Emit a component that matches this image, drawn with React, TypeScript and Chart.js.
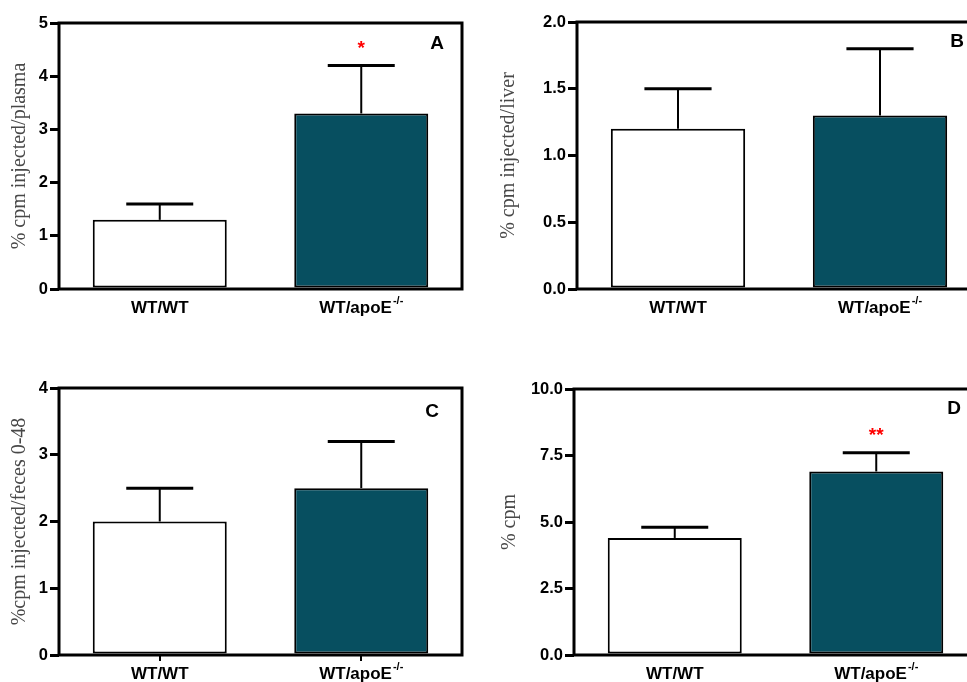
import React, { useEffect, useRef } from 'react';
import { Chart, registerables } from 'chart.js';

Chart.register(...registerables);

// ---------- data ----------
const categories = ['WT/WT', 'WT/apoE'];
const categorySuperscripts = ['', '-/-'];
const barColors = ['#ffffff', '#074f60'];

const plasmaMeans = [1.3, 3.3];
const plasmaErrors = [0.3, 0.9];
const plasmaStars = ['', '*'];

const liverMeans = [1.2, 1.3];
const liverErrors = [0.3, 0.5];
const liverStars = ['', ''];

const fecesMeans = [2.0, 2.5];
const fecesErrors = [0.5, 0.7];
const fecesStars = ['', ''];

const cpmMeans = [4.4, 6.9];
const cpmErrors = [0.4, 0.7];
const cpmStars = ['', '**'];

const plasmaAxis = { max: 5, step: 1, decimals: 0 };
const liverAxis = { max: 2, step: 0.5, decimals: 1 };
const fecesAxis = { max: 4, step: 1, decimals: 0 };
const cpmAxis = { max: 10, step: 2.5, decimals: 1 };

// ---------- panel layout / style ----------
type PanelCfg = {
  letter: string;
  yTitle: string;
  means: number[];
  errors: number[];
  stars: string[];
  axis: { max: number; step: number; decimals: number };
  left: number; top: number; w: number; h: number;
  padLeft: number; padTop: number; padRight: number; padBottom: number;
  yWidth: number; xHeight: number;
  xTicks: boolean;
  letterDx: number; letterDy: number;
};

const panels: PanelCfg[] = [
  {
    letter: 'A', yTitle: '% cpm injected/plasma', means: plasmaMeans, errors: plasmaErrors, stars: plasmaStars, axis: plasmaAxis,
    left: 0, top: 0, w: 480, h: 340, padLeft: 0, padTop: 23, padRight: 18, padBottom: 11, yWidth: 59, xHeight: 40,
    xTicks: false, letterDx: -25, letterDy: 21,
  },
  {
    letter: 'B', yTitle: '% cpm injected/liver', means: liverMeans, errors: liverErrors, stars: liverStars, axis: liverAxis,
    left: 480, top: 0, w: 520, h: 340, padLeft: 9, padTop: 22, padRight: 19, padBottom: 11, yWidth: 88, xHeight: 40,
    xTicks: false, letterDx: -24, letterDy: 20,
  },
  {
    letter: 'C', yTitle: '%cpm injected/feces 0-48', means: fecesMeans, errors: fecesErrors, stars: fecesStars, axis: fecesAxis,
    left: 0, top: 360, w: 480, h: 322, padLeft: 0, padTop: 28, padRight: 18, padBottom: 0, yWidth: 59, xHeight: 27,
    xTicks: true, letterDx: -30, letterDy: 24,
  },
  {
    letter: 'D', yTitle: '% cpm', means: cpmMeans, errors: cpmErrors, stars: cpmStars, axis: cpmAxis,
    left: 480, top: 360, w: 520, h: 322, padLeft: 10, padTop: 29, padRight: 23, padBottom: 0, yWidth: 84, xHeight: 27,
    xTicks: false, letterDx: -23, letterDy: 20,
  },
];

const SANS = 'Arial, "Liberation Sans", Helvetica, sans-serif';
const SERIF = '"Liberation Serif", "Times New Roman", serif';

function makeDecor(p: PanelCfg) {
  return {
    id: 'decor' + p.letter,
    afterDatasetsDraw(chart: any) {
      const { ctx, chartArea: ca, scales } = chart;
      const y = scales.y;
      const xs = scales.x;
      const meta = chart.getDatasetMeta(0);
      ctx.save();
      // error bars + significance
      p.means.forEach((m, i) => {
        const bar: any = meta.data[i];
        const cx = bar.x;
        const topPx = y.getPixelForValue(m);
        const errPx = y.getPixelForValue(m + p.errors[i]);
        const half = bar.width / 4;
        ctx.strokeStyle = '#000';
        ctx.lineWidth = 2;
        ctx.beginPath();
        ctx.moveTo(cx, topPx);
        ctx.lineTo(cx, errPx);
        ctx.stroke();
        ctx.lineWidth = 3;
        ctx.beginPath();
        ctx.moveTo(cx - half, errPx);
        ctx.lineTo(cx + half, errPx);
        ctx.stroke();
        if (p.stars[i]) {
          ctx.fillStyle = '#ff0000';
          ctx.font = 'bold 19px ' + SANS;
          ctx.textAlign = 'center';
          ctx.textBaseline = 'alphabetic';
          ctx.fillText(p.stars[i], cx, errPx - 12);
        }
      });
      // frame
      ctx.strokeStyle = '#000';
      ctx.lineWidth = 3;
      ctx.strokeRect(ca.left, ca.top, ca.right - ca.left, ca.bottom - ca.top);
      // panel letter
      ctx.fillStyle = '#000';
      ctx.font = 'bold 19px ' + SANS;
      ctx.textAlign = 'center';
      ctx.textBaseline = 'middle';
      ctx.fillText(p.letter, ca.right + p.letterDx, ca.top + p.letterDy);
      // category labels with superscripts
      categories.forEach((c, i) => {
        const cx = xs.getPixelForValue(i);
        const ly = ca.bottom + 19;
        ctx.font = 'bold 17px ' + SANS;
        const wb = ctx.measureText(c).width;
        ctx.font = 'bold 11px ' + SANS;
        const sup = categorySuperscripts[i];
        const ws = sup ? ctx.measureText(sup).width + 1 : 0;
        const start = cx - (wb + ws) / 2;
        ctx.textAlign = 'left';
        ctx.textBaseline = 'middle';
        ctx.font = 'bold 17px ' + SANS;
        ctx.fillText(c, start, ly);
        if (sup) {
          ctx.font = 'bold 11px ' + SANS;
          ctx.fillText(sup, start + wb + 1, ly - 7);
        }
      });
      ctx.restore();
    },
  };
}

function Panel({ p }: { p: PanelCfg }) {
  const ref = useRef<HTMLCanvasElement | null>(null);
  useEffect(() => {
    if (!ref.current) return;
    const chart = new Chart(ref.current, {
      type: 'bar',
      data: {
        labels: categories,
        datasets: [
          {
            data: p.means,
            backgroundColor: barColors,
            borderColor: '#000',
            borderWidth: 2,
            borderSkipped: false,
            categoryPercentage: 1,
            barPercentage: 0.665,
          },
        ],
      },
      options: {
        animation: false,
        responsive: false,
        devicePixelRatio: 1,
        layout: { padding: { left: p.padLeft, top: p.padTop, right: p.padRight, bottom: p.padBottom } },
        plugins: { legend: { display: false }, tooltip: { enabled: false } },
        scales: {
          x: {
            ticks: { display: false },
            grid: {
              display: p.xTicks,
              drawOnChartArea: false,
              drawTicks: true,
              offset: false,
              tickLength: 6,
              lineWidth: 2,
              color: '#000',
            },
            border: { display: false },
            afterFit: (s: any) => { s.height = p.xHeight; },
          },
          y: {
            min: 0,
            max: p.axis.max,
            ticks: {
              stepSize: p.axis.step,
              callback: (v: any) => Number(v).toFixed(p.axis.decimals),
              color: '#000',
              font: { family: SANS, size: 16.5, weight: 'bold' },
              padding: 2,
            },
            grid: {
              display: true,
              drawOnChartArea: false,
              drawTicks: true,
              tickLength: 9,
              lineWidth: 3,
              color: '#000',
            },
            border: { display: false },
            title: {
              display: true,
              text: p.yTitle,
              color: '#484848',
              font: { family: SERIF, size: 20, weight: 'normal' },
              padding: { top: 8, bottom: 0 },
            },
            afterFit: (s: any) => { s.width = p.yWidth; },
          },
        },
      } as any,
      plugins: [makeDecor(p)],
    });
    return () => chart.destroy();
  }, [p]);
  return (
    <canvas
      ref={ref}
      width={p.w}
      height={p.h}
      style={{ position: 'absolute', left: p.left, top: p.top, width: p.w, height: p.h }}
    />
  );
}

export default function App() {
  return (
    <div
      style={{
        position: 'absolute',
        left: 0,
        top: 0,
        width: 967,
        height: 682,
        overflow: 'hidden',
        background: '#fff',
      }}
    >
      {panels.map((p) => (
        <Panel key={p.letter} p={p} />
      ))}
    </div>
  );
}
